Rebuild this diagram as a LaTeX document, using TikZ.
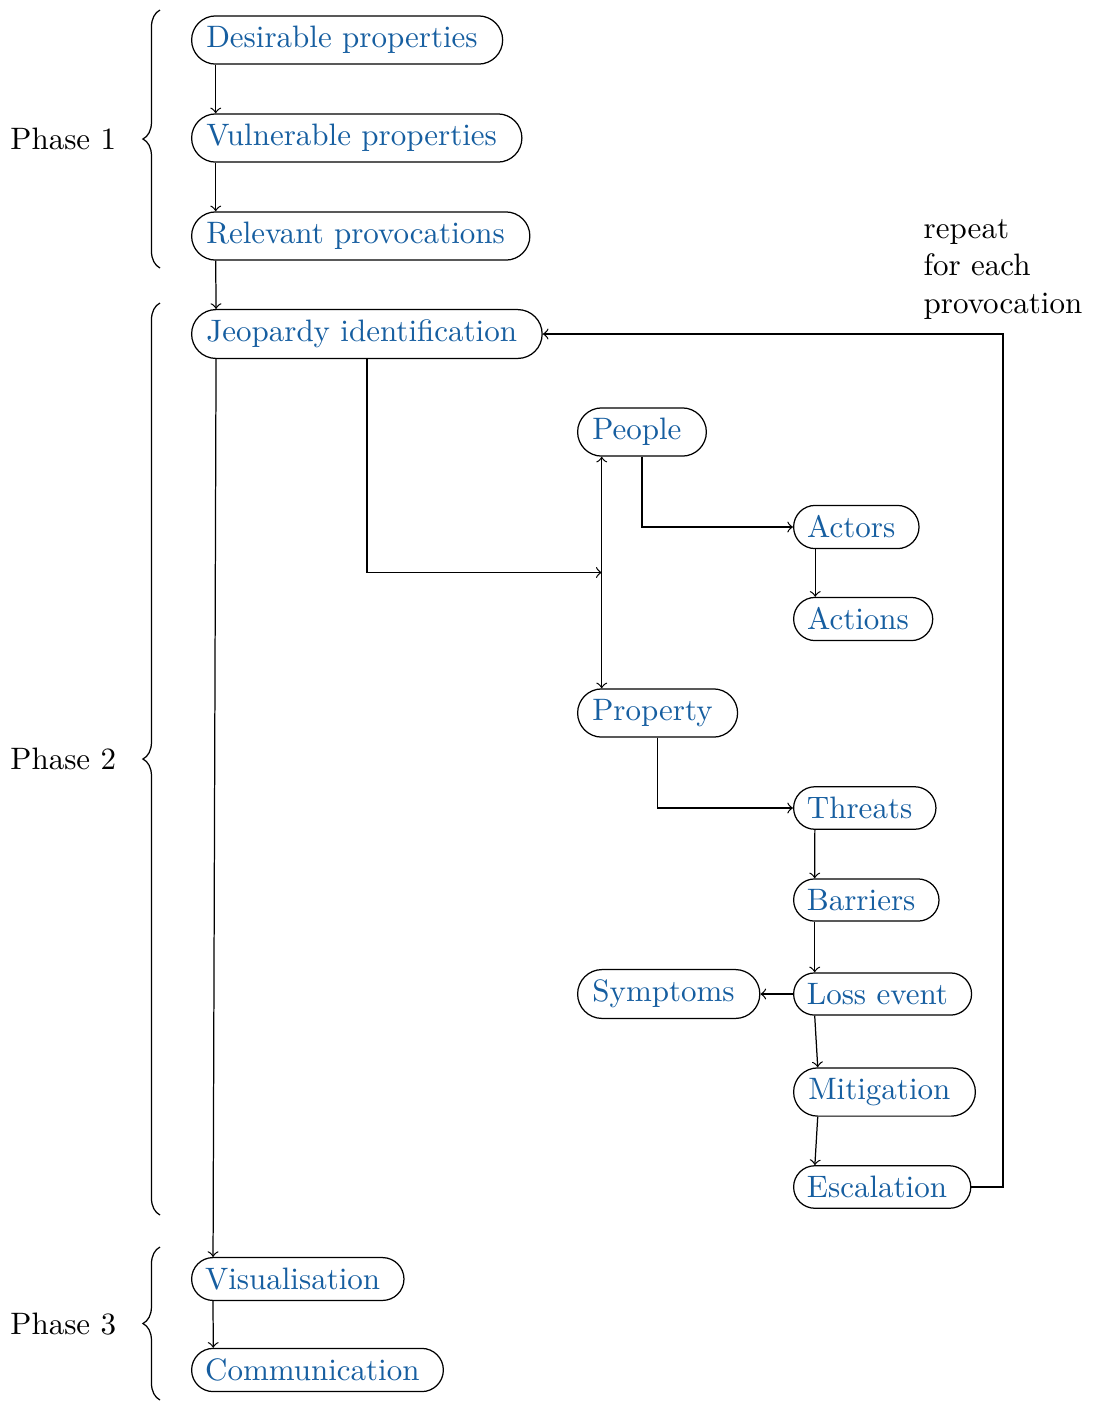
\documentclass[tikz,border=0pt]{standalone}
\usetikzlibrary{shapes.misc,decorations.pathreplacing,calc}
\definecolor{linkblue}{RGB}{22,94,160}
% trailing space kept inside the boxes
\newcommand{\tsp}{\kern0.3333em}
\begin{document}
\begin{tikzpicture}[x=0.3226pt,y=-0.3226pt,
  stage/.style={rounded rectangle,draw,text=linkblue,anchor=west,inner sep=0.3333em},
  flow/.style={->},
  phasebrace/.style={decorate,decoration={brace,amplitude=5.5pt}},
  phaselabel/.style={anchor=east}]
\useasboundingbox (0,0) rectangle (1093,1401);

% phase 1
\node[stage] (des) at (191,40)  {Desirable properties\tsp};
\node[stage] (vul) at (191,138) {Vulnerable properties\tsp};
\node[stage] (rel) at (191,236) {Relevant provocations\tsp};
% phase 2
\node[stage] (jeo) at (191,334) {Jeopardy identification\tsp};
\node[stage] (peo) at (577,432) {People\tsp};
\node[stage] (act) at (793,527) {Actors\tsp};
\node[stage] (acn) at (793,619) {Actions\tsp};
\node[stage] (pro) at (577,713) {Property\tsp};
\node[stage] (thr) at (793,808) {Threats\tsp};
\node[stage] (bar) at (793,900) {Barriers\tsp};
\node[stage] (sym) at (577,994) {Symptoms\tsp};
\node[stage] (los) at (793,994) {Loss event\tsp};
\node[stage] (mit) at (793,1092) {Mitigation\tsp};
\node[stage] (esc) at (793,1187) {Escalation\tsp};
% phase 3
\node[stage] (vis) at (191,1279) {Visualisation\tsp};
\node[stage] (com) at (191,1370) {Communication\tsp};

% main chain
\draw[flow] (des.south west) -- (vul.north west);
\draw[flow] (vul.south west) -- (rel.north west);
\draw[flow] (rel.south west) -- (jeo.north west);
\draw[flow] (jeo.south west) -- (vis.north west);
\draw[flow] (vis.south west) -- (com.north west);

% people / property split
\coordinate (split) at ($(peo.south west)!0.5!(pro.north west)$);
\draw[<->] (peo.south west) -- (pro.north west);
\draw[flow] (jeo.south) |- (split);
\draw[flow] (peo.south) |- (act.west);
\draw[flow] (act.south west) -- (acn.north west);
\draw[flow] (pro.south) |- (thr.west);
\draw[flow] (thr.south west) -- (bar.north west);
\draw[flow] (bar.south west) -- (los.north west);
\draw[flow] (los.west) -- (sym.east);
\draw[flow] (los.south west) -- (mit.north west);
\draw[flow] (mit.south west) -- (esc.north west);

% loop back to jeopardy identification
\coordinate (ret) at (1003,334);
\draw[flow] (esc.east) -| (ret) -- (jeo.east);
\node[above,align=left,yshift=1.3pt] (rep) at (ret) {repeat\\for each\\provocation};

% phase braces
\draw[phasebrace] (160,268) -- (160,10);
\node[phaselabel] (ph1) at (127,139) {Phase 1};
\draw[phasebrace] (160,1215) -- (160,303);
\node[phaselabel] (ph2) at (127,759) {Phase 2};
\draw[phasebrace] (160,1400) -- (160,1247);
\node[phaselabel] (ph3) at (127,1324) {Phase 3};
\end{tikzpicture}
\end{document}
